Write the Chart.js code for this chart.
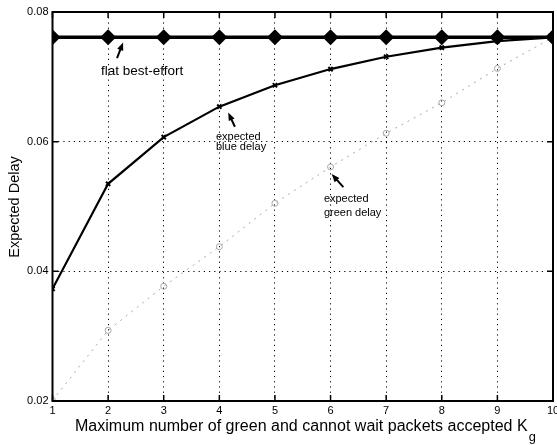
<!DOCTYPE html>
<html>
<head>
<meta charset="utf-8">
<script src="https://cdn.jsdelivr.net/npm/chart.js@4"></script>
<style>
  html, body { margin: 0; padding: 0; background: #fff; }
  #wrap { width: 557px; height: 445px; }
</style>
</head>
<body>
<div id="wrap"><canvas id="c" width="557" height="445"></canvas></div>
<script>
// K_g values on the horizontal axis
const kValues = [1, 2, 3, 4, 5, 6, 7, 8, 9, 10];
// expected delays for each policy
const flatBestEffort = [0.0761, 0.0761, 0.0761, 0.0761, 0.0761, 0.0761, 0.0761, 0.0761, 0.0761, 0.0761];
const blueDelay      = [0.0373, 0.0535, 0.0607, 0.0654, 0.0687, 0.0712, 0.0731, 0.0745, 0.0755, 0.0761];
const greenDelay     = [0.0201, 0.0309, 0.0377, 0.0438, 0.0505, 0.0561, 0.0613, 0.0660, 0.0713, 0.0761];
const yTicks = [0.02, 0.04, 0.06, 0.08];

const pts = arr => arr.map((v, i) => ({ x: kValues[i], y: v }));

// text labels with arrows, placed in data coordinates
const notes = [
  { lines: ['flat best-effort'], x: 1.87, y: 0.0709, size: 13.5, dy: 0,
    arrow: { from: [2.16, 0.0729], to: [2.27, 0.0753] } },
  { lines: ['expected', 'blue delay'], x: 3.94, y: 0.0607, size: 11, dy: 10,
    arrow: { from: [4.28, 0.0623], to: [4.16, 0.0645] } },
  { lines: ['expected', 'green delay'], x: 5.88, y: 0.0512, size: 11, dy: 14,
    arrow: { from: [6.23, 0.0530], to: [6.02, 0.0550] } }
];

const FONT = 'Arial, "Liberation Sans", Helvetica, sans-serif';

function arrow(ctx, x0, y0, x1, y1) {
  const ang = Math.atan2(y1 - y0, x1 - x0);
  const hl = 8, hw = 3.2;
  ctx.save();
  ctx.strokeStyle = '#000';
  ctx.fillStyle = '#000';
  ctx.lineWidth = 2;
  ctx.beginPath();
  ctx.moveTo(x0, y0);
  ctx.lineTo(x1 - Math.cos(ang) * hl * 0.6, y1 - Math.sin(ang) * hl * 0.6);
  ctx.stroke();
  ctx.beginPath();
  ctx.moveTo(x1, y1);
  ctx.lineTo(x1 - hl * Math.cos(ang) + hw * Math.sin(ang), y1 - hl * Math.sin(ang) - hw * Math.cos(ang));
  ctx.lineTo(x1 - hl * Math.cos(ang) - hw * Math.sin(ang), y1 - hl * Math.sin(ang) + hw * Math.cos(ang));
  ctx.closePath();
  ctx.fill();
  ctx.restore();
}

const decor = {
  id: 'decor',
  afterDatasetsDraw(chart) {
    const { ctx, chartArea: a, scales: { x, y } } = chart;
    ctx.save();
    // frame
    ctx.strokeStyle = '#000';
    ctx.lineWidth = 2;
    ctx.strokeRect(a.left, a.top, a.right - a.left, a.bottom - a.top);
    // inward tick marks
    ctx.lineWidth = 1.5;
    ctx.beginPath();
    kValues.forEach(k => {
      const px = x.getPixelForValue(k);
      ctx.moveTo(px, a.bottom); ctx.lineTo(px, a.bottom - 6);
      ctx.moveTo(px, a.top); ctx.lineTo(px, a.top + 6);
    });
    yTicks.forEach(v => {
      const py = y.getPixelForValue(v);
      ctx.moveTo(a.left, py); ctx.lineTo(a.left + 6, py);
      ctx.moveTo(a.right, py); ctx.lineTo(a.right - 6, py);
    });
    ctx.stroke();

    // annotations
    ctx.fillStyle = '#000';
    ctx.textBaseline = 'middle';
    ctx.textAlign = 'left';
    notes.forEach(n => {
      ctx.font = n.size + 'px ' + FONT;
      const px = x.getPixelForValue(n.x);
      const py = y.getPixelForValue(n.y);
      n.lines.forEach((t, i) => ctx.fillText(t, px, py + i * (n.dy || 0)));
      arrow(ctx,
        x.getPixelForValue(n.arrow.from[0]), y.getPixelForValue(n.arrow.from[1]),
        x.getPixelForValue(n.arrow.to[0]), y.getPixelForValue(n.arrow.to[1]));
    });

    // axis titles
    ctx.textBaseline = 'middle';
    const main = 'Maximum number of green and cannot wait packets accepted K';
    ctx.font = '14px ' + FONT;
    const size = 14 * 453 / ctx.measureText(main).width;
    ctx.font = size.toFixed(2) + 'px ' + FONT;
    const w = ctx.measureText(main).width;
    const tx = 75;
    ctx.fillText(main, tx, 427);
    ctx.font = (size * 0.8).toFixed(2) + 'px ' + FONT;
    ctx.fillText('g', tx + w + 1, 437);

    ctx.translate(15, 207);
    ctx.rotate(-Math.PI / 2);
    ctx.textAlign = 'center';
    ctx.font = '14.5px ' + FONT;
    ctx.fillText('Expected Delay', 0, 0);
    ctx.restore();
  }
};

const noPad = () => ({ left: 0, top: 0, right: 0, bottom: 0 });

new Chart(document.getElementById('c'), {
  type: 'line',
  data: {
    datasets: [
      {
        label: 'flat best-effort',
        data: pts(flatBestEffort),
        borderColor: '#000',
        backgroundColor: '#000',
        borderWidth: 3.5,
        pointStyle: 'rectRot',
        pointRadius: 5.5,
        pointBackgroundColor: '#000',
        pointBorderColor: '#000',
        order: 1
      },
      {
        label: 'expected blue delay',
        data: pts(blueDelay),
        borderColor: '#000',
        borderWidth: 2.2,
        pointStyle: 'crossRot',
        pointRadius: 3,
        pointBorderWidth: 2,
        pointBorderColor: '#000',
        order: 2
      },
      {
        label: 'expected green delay',
        data: pts(greenDelay),
        borderColor: '#a8a8a8',
        borderWidth: 1,
        borderDash: [2, 5],
        pointStyle: 'circle',
        pointRadius: 3,
        pointBorderWidth: 1,
        pointBorderColor: '#a8a8a8',
        pointBackgroundColor: 'rgba(0,0,0,0)',
        order: 3
      }
    ]
  },
  options: {
    responsive: false,
    animation: false,
    layout: { autoPadding: false, padding: { top: 12, right: 4, left: 0, bottom: 0 } },
    plugins: { legend: { display: false }, tooltip: { enabled: false } },
    elements: { line: { tension: 0 } },
    scales: {
      x: {
        type: 'linear',
        min: 1, max: 10,
        afterFit(s) { s.height = 44; s.paddingLeft = 0; s.paddingRight = 0; s.getPadding = noPad; },
        afterBuildTicks(s) { s.ticks = kValues.map(v => ({ value: v })); },
        ticks: { color: '#000', font: { family: FONT, size: 11 }, padding: 3, maxRotation: 0,
                 callback: v => String(v) },
        grid: { color: '#000', lineWidth: 1, drawTicks: false },
        border: { display: false, dash: [1.2, 4] }
      },
      y: {
        min: 0.02, max: 0.08,
        afterFit(s) { s.width = 52.5; s.getPadding = noPad; },
        afterBuildTicks(s) { s.ticks = yTicks.map(v => ({ value: v })); },
        ticks: { color: '#000', font: { family: FONT, size: 11 }, padding: 4,
                 callback: v => v.toFixed(2) },
        grid: { color: '#000', lineWidth: 1, drawTicks: false },
        border: { display: false, dash: [1.2, 4] }
      }
    }
  },
  plugins: [decor]
});
</script>
</body>
</html>
